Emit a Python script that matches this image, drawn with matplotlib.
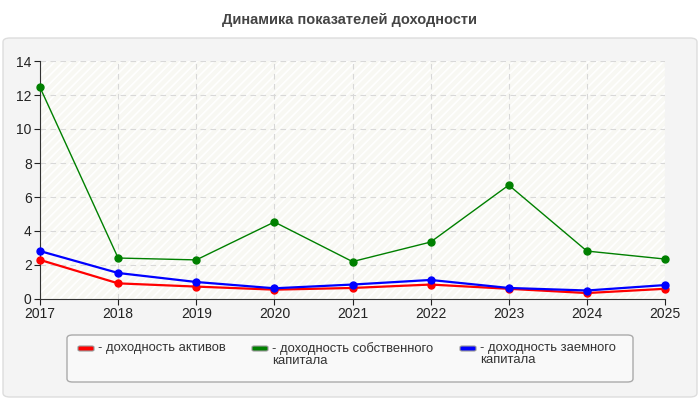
import matplotlib.pyplot as plt
from matplotlib.patches import FancyBboxPatch, Rectangle

plt.rcParams['font.family'] = ['Liberation Sans', 'DejaVu Sans']
plt.rcParams['hatch.linewidth'] = 1.2

# Data
years = [2017, 2018, 2019, 2020, 2021, 2022, 2023, 2024, 2025]
roa = [2.3, 0.92, 0.73, 0.55, 0.65, 0.85, 0.6, 0.35, 0.6]
roe = [12.45, 2.41, 2.3, 4.53, 2.2, 3.35, 6.7, 2.82, 2.35]
rod = [2.82, 1.53, 1.0, 0.63, 0.85, 1.12, 0.65, 0.5, 0.82]
labels = ['- доходность активов',
          '- доходность собственного\nкапитала',
          '- доходность заемного\nкапитала']
colors = ['#ff0000', '#008000', '#0000ff']
title = 'Динамика показателей доходности'

fig = plt.figure(figsize=(7, 4), dpi=100)
W, H = 700.0, 400.0

# outer panel
panel = FancyBboxPatch((3 / W, 3 / H), 694 / W, 359 / H,
                       boxstyle='round,pad=0,rounding_size=0.01',
                       transform=fig.transFigure, facecolor='#f4f4f4',
                       edgecolor='#dddddd', linewidth=1, zorder=-10)
fig.patches.append(panel)

fig.text(0.5, 1 - 20 / H, title, ha='center', va='center',
         fontsize=10.5, fontweight='bold', color='#444444')

ax = fig.add_axes([40 / W, 101 / H, 625 / W, 238 / H])
ax.set_facecolor('#f8f8f3')
ax.add_patch(Rectangle((0, 0), 1, 1, transform=ax.transAxes, fill=False,
                       hatch='////', edgecolor='#ffffff', linewidth=0,
                       zorder=0))

for vals, c, lw, ms in [(roa, colors[0], 1.6, 5), (rod, colors[2], 1.6, 5),
                        (roe, colors[1], 1.0, 5)]:
    ax.plot(years, vals, color=c, linewidth=lw, marker='o', markersize=ms,
            zorder=3, clip_on=False)

ax.set_xlim(2017, 2025)
ax.set_ylim(0, 14)
ax.set_xticks(years)
ax.set_yticks(range(0, 15, 2))
ax.grid(True, color='#d8d8d8', linestyle=(0, (5, 4)), linewidth=0.8)
ax.set_axisbelow(True)
for s in ['top', 'right']:
    ax.spines[s].set_visible(False)
ax.spines['left'].set_color('#333333')
ax.spines['bottom'].set_color('#333333')
ax.tick_params(labelsize=10, colors='#222222', length=4, pad=2)

# legend box
leg = FancyBboxPatch((67 / W, (H - 382) / H), 566 / W, 47 / H,
                     boxstyle='round,pad=0,rounding_size=0.008',
                     transform=fig.transFigure, facecolor='#f9f9f9',
                     edgecolor='#aaaaaa', linewidth=1)
fig.patches.append(leg)
xs = [78, 252, 460]
for x, c, lab in zip(xs, colors, labels):
    fig.patches.append(FancyBboxPatch((x / W, (H - 351) / H), 16 / W, 5 / H,
                                      boxstyle='round,pad=0,rounding_size=0.003',
                                      transform=fig.transFigure, facecolor=c,
                                      edgecolor='#999999', linewidth=0.8))
    fig.text((x + 20) / W, (H - 342) / H, lab, ha='left', va='top',
             fontsize=9.4, color='#333333', linespacing=1.0)

fig.savefig('out.png', dpi=100)
